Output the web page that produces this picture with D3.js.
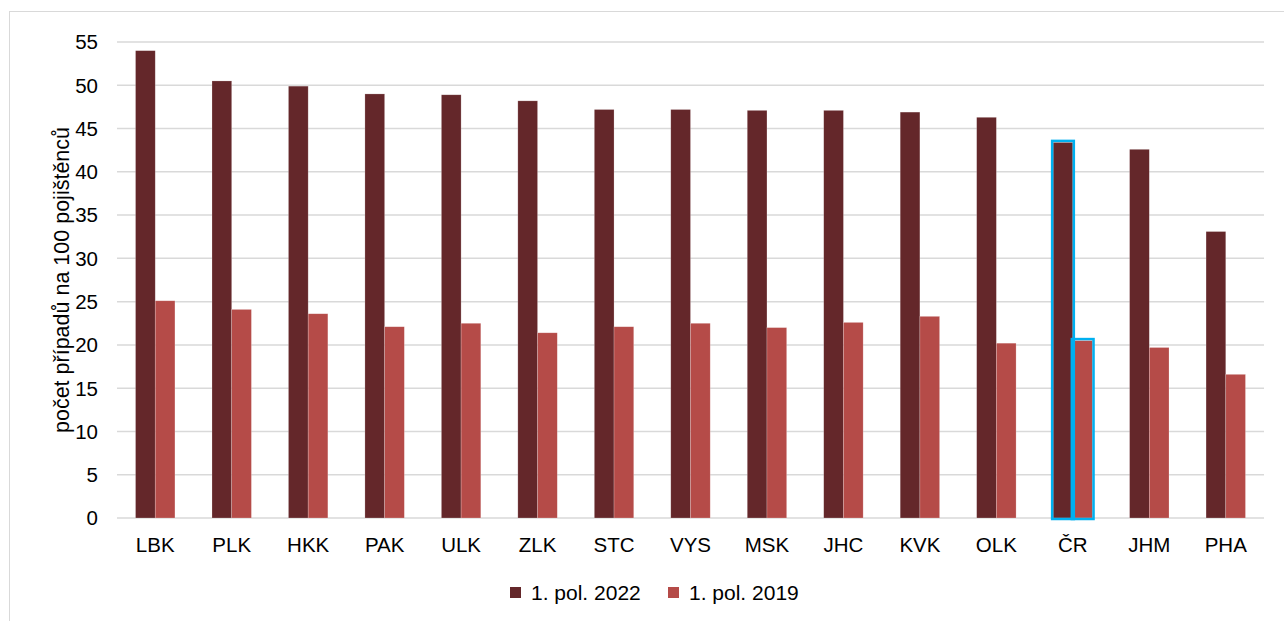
<!DOCTYPE html>
<html lang="cs">
<head>
<meta charset="UTF-8">
<title>Počet případů na 100 pojištěnců</title>
<script src="https://cdn.jsdelivr.net/npm/d3@7"></script>
<style>
  body { margin: 0; background: #fff; }
  text { font-family: "Liberation Sans", Arial, sans-serif; fill: #000; }
</style>
</head>
<body>
<script>
  // data
  var categories = ["LBK", "PLK", "HKK", "PAK", "ULK", "ZLK", "STC", "VYS", "MSK", "JHC", "KVK", "OLK", "ČR", "JHM", "PHA"];
  var series = ["1. pol. 2022", "1. pol. 2019"];
  var values2022 = [54.0, 50.5, 49.9, 49.0, 48.9, 48.2, 47.2, 47.2, 47.1, 47.1, 46.9, 46.3, 43.4, 42.6, 33.1];
  var values2019 = [25.1, 24.1, 23.6, 22.1, 22.5, 21.4, 22.1, 22.5, 22.0, 22.6, 23.3, 20.2, 20.5, 19.7, 16.6];
  var yTicks = [0, 5, 10, 15, 20, 25, 30, 35, 40, 45, 50, 55];
  var highlight = "ČR";
  var colors = ["#64272a", "#b54b48"];

  var width = 1284, height = 621;
  var margin = {left: 117, right: 20, top: 42, bottom: 103};

  var svg = d3.select("body").append("svg")
    .attr("width", width)
    .attr("height", height);

  // outer frame
  svg.append("rect")
    .attr("x", 9.5).attr("y", 11.5)
    .attr("width", width).attr("height", height)
    .attr("fill", "none")
    .attr("stroke", "#d9d9d9");

  var x = d3.scaleBand()
    .domain(categories)
    .range([margin.left, width - margin.right]);

  var xSub = d3.scaleBand()
    .domain(series)
    .range([0, x.bandwidth()])
    .paddingOuter(0.94);

  var y = d3.scaleLinear()
    .domain([0, 55])
    .range([height - margin.bottom, margin.top]);

  // gridlines
  svg.append("g")
    .selectAll("line")
    .data(yTicks)
    .join("line")
    .attr("x1", margin.left)
    .attr("x2", width - margin.right)
    .attr("y1", d => y(d))
    .attr("y2", d => y(d))
    .attr("stroke", "#d9d9d9")
    .attr("stroke-width", 1.5);

  // y tick labels
  svg.append("g")
    .selectAll("text")
    .data(yTicks)
    .join("text")
    .attr("x", 98)
    .attr("y", d => y(d))
    .attr("dy", "0.36em")
    .attr("text-anchor", "end")
    .style("font-size", "20.5px")
    .text(d => d);

  // y axis title
  svg.append("text")
    .attr("transform", "translate(69," + ((margin.top + height - margin.bottom) / 2) + ") rotate(-90)")
    .attr("text-anchor", "middle")
    .style("font-size", "21.5px")
    .text("počet případů na 100 pojištěnců");

  var rows = categories.map((c, i) => ({cat: c, vals: [values2022[i], values2019[i]]}));

  var groups = svg.append("g")
    .selectAll("g")
    .data(rows)
    .join("g")
    .attr("transform", d => "translate(" + x(d.cat) + ",0)");

  groups.selectAll("rect")
    .data(d => d.vals.map((v, j) => ({key: series[j], v: v, j: j})))
    .join("rect")
    .attr("x", d => xSub(d.key))
    .attr("y", d => y(d.v))
    .attr("width", xSub.bandwidth())
    .attr("height", d => y(0) - y(d.v))
    .attr("fill", d => colors[d.j])
    .attr("stroke", "#fff")
    .attr("stroke-opacity", 0.35)
    .attr("stroke-width", 0.6);

  // highlighted ČR bars
  groups.filter(d => d.cat === highlight)
    .selectAll("rect.hl")
    .data(d => d.vals.map((v, j) => ({key: series[j], v: v})))
    .join("rect")
    .attr("class", "hl")
    .attr("x", d => xSub(d.key) - 1)
    .attr("y", d => y(d.v) - 1.5)
    .attr("width", xSub.bandwidth() + 2)
    .attr("height", d => y(0) - y(d.v) + 2.5)
    .attr("fill", "none")
    .attr("stroke", "#00b0f0")
    .attr("stroke-width", 2.5);

  // category labels
  svg.append("g")
    .selectAll("text")
    .data(categories)
    .join("text")
    .attr("x", d => x(d) + x.bandwidth() / 2)
    .attr("y", 552)
    .attr("text-anchor", "middle")
    .style("font-size", "20.5px")
    .text(d => d);

  // legend
  var legendX = [510, 668];
  var legend = svg.append("g")
    .selectAll("g")
    .data(series)
    .join("g")
    .attr("transform", (d, i) => "translate(" + legendX[i] + ",587)");

  legend.append("rect")
    .attr("width", 11).attr("height", 11)
    .attr("fill", (d, i) => colors[i]);

  legend.append("text")
    .attr("x", 21)
    .attr("y", 13)
    .style("font-size", "21px")
    .text(d => d);
</script>
</body>
</html>
